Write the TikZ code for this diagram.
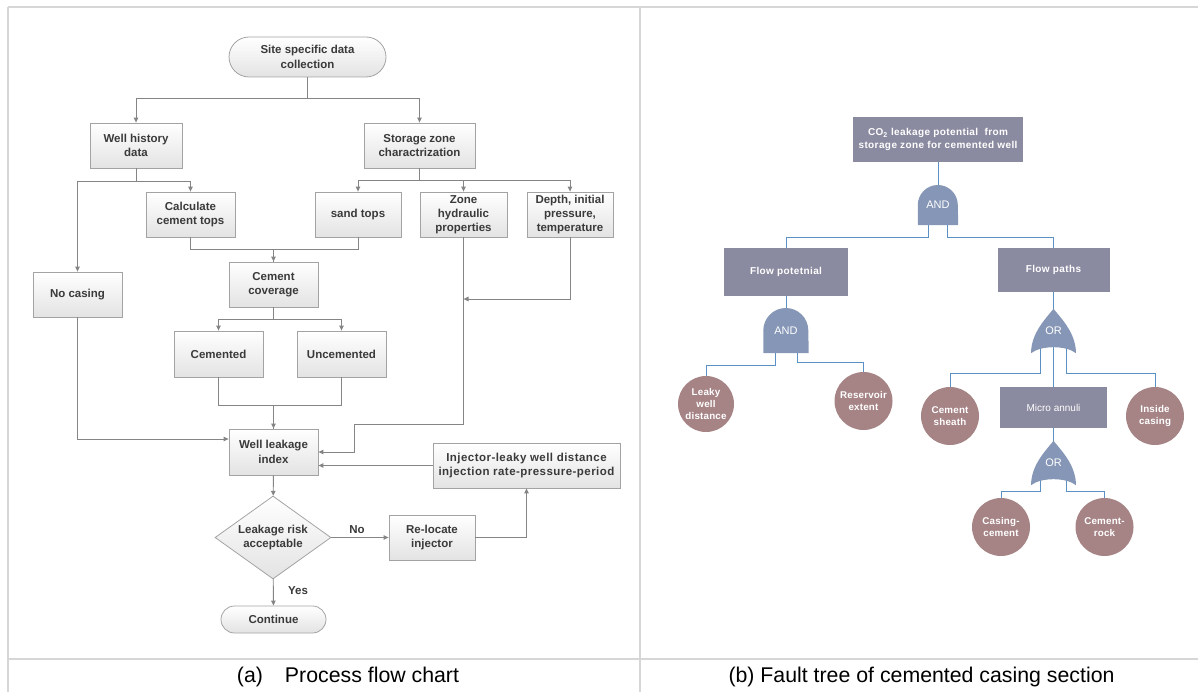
\documentclass[tikz,border=0pt]{standalone}
\usepackage{fontspec}
\setmainfont{Liberation Sans}
\usepackage{xcolor}
\usepackage{tikz}
\usetikzlibrary{positioning,arrows.meta,calc,backgrounds,shapes.geometric}

\definecolor{framegray}{HTML}{D6D6D6}
\definecolor{linegray}{HTML}{858585}
\definecolor{boxedge}{HTML}{A3A3A3}
\definecolor{boxtext}{HTML}{3A3A3A}
\definecolor{eventfill}{HTML}{8A8AA0}
\definecolor{gatefill}{HTML}{8596B6}
\definecolor{basicfill}{HTML}{A68486}
\definecolor{treeline}{HTML}{5B90C4}

\pgfdeclarelayer{gates}
\pgfsetlayers{background,gates,main}

% gate outlines, drawn under the gate labels
\newcommand{\andgate}[2]{%
  \begin{pgfonlayer}{gates}
    \fill[gatefill] (#1.south west) -- (#1.west)
      arc[start angle=180, end angle=0, radius=#2] -- (#1.south east) -- cycle;
  \end{pgfonlayer}}
\newcommand{\orgate}[1]{%
  \begin{pgfonlayer}{gates}
    \fill[gatefill] (#1.south west) .. controls +(0,-20) and +(-8,10) .. (#1.north)
      .. controls +(8,10) and +(0,-20) .. (#1.south east)
      .. controls +(-10,-8) and +(10,-8) .. (#1.south west) -- cycle;
  \end{pgfonlayer}}

\begin{document}
\begin{tikzpicture}[
  x=1pt, y=-1pt,
  box/.style={draw=boxedge, line width=.8pt, top color=white, bottom color=gray!22,
              inner sep=0pt, minimum width=89pt, minimum height=45pt, align=center,
              text=boxtext, font=\fontsize{11.5}{14.5}\selectfont\bfseries},
  terminal/.style={box, minimum height=40pt},
  decision/.style={box, diamond, aspect=1.4, minimum width=116pt, minimum height=83pt},
  lbl/.style={inner sep=1pt, text=boxtext, font=\fontsize{11.5}{14}\selectfont\bfseries},
  flow/.style={draw=linegray, line width=.9pt, -{Triangle[length=5pt,width=4.5pt]}},
  wire/.style={draw=linegray, line width=.9pt},
  event/.style={fill=eventfill, text=white, inner sep=0pt, align=center,
                font=\fontsize{10}{12.5}\selectfont\bfseries\addfontfeature{LetterSpace=4}},
  basic/.style={circle, fill=basicfill, text=white, inner sep=0pt, minimum size=58pt,
                align=center, font=\fontsize{9.8}{12}\selectfont\bfseries\addfontfeature{LetterSpace=2}},
  gate/.style={inner sep=0pt, text=white, font=\fontsize{11}{12}\selectfont},
  tree/.style={draw=treeline, line width=.9pt},
  frame/.style={draw=framegray, line width=2pt},
  caption/.style={inner sep=0pt, font=\fontsize{21.3}{25}\selectfont}
]
  \useasboundingbox (0,0) rectangle (1198,692);

  % (a) process flow chart
  \node[terminal, minimum width=157pt, rounded corners=20pt] (site) at (307.5,57) {Site specific data\\collection};
  \node[box, minimum width=92pt] (well) at (136,145.5) {Well history\\data};
  \node[box, minimum width=111pt] (store) at (419.5,145.5) {Storage zone\\charactrization};
  \node[box] (calc) at (190.5,214.5) {Calculate\\cement tops};
  \node[box, minimum width=86pt] (sand) at (358,214.5) {sand tops};
  \node[box, minimum width=87pt, font=\fontsize{11.5}{14}\selectfont\bfseries] (zone) at (463.5,214.5) {Zone\\hydraulic\\properties};
  \node[box, minimum width=86pt, font=\fontsize{11.5}{14}\selectfont\bfseries] (depth) at (570,214.5) {Depth, initial\\pressure,\\temperature};
  \node[box] (nocase) at (77.5,294.5) {No casing};
  \node[box] (cover) at (273.5,284.5) {Cement\\coverage};
  \node[box, minimum height=46pt] (cem) at (218.5,354) {Cemented};
  \node[box, minimum height=46pt] (uncem) at (341.5,354) {Uncemented};
  \node[box, minimum height=46pt] (leak) at (273.5,452) {Well leakage\\index};
  \node[box, minimum width=187pt, font=\fontsize{11.5}{14.5}\selectfont\bfseries\addfontfeature{LetterSpace=4}] (inj) at (526.5,465.5) {Injector-leaky well distance\\injection rate-pressure-period};
  \node[decision] (risk) at (273,537.5) {Leakage risk\\acceptable};
  \node[box, minimum width=86pt] (reloc) at (432,537.5) {Re-locate\\injector};
  \node[terminal, minimum width=105pt, minimum height=27pt, rounded corners=13.5pt] (cont) at (273.5,619.5) {Continue};
  \node[lbl] (no) at (357,530) {No};
  \node[lbl] (yes) at (298,591) {Yes};
  \coordinate (zonejoin) at (463.5,299);

  \draw[flow] (site.south) -- ++(0,21) -| (well.north);
  \draw[flow] (site.south) -- ++(0,21) -| (store.north);
  \draw[flow] (well.south) -- ++(0,13) -| (nocase.north);
  \draw[flow] (well.south) -- ++(0,13) -| (calc.north);
  \draw[flow] (store.south) -- ++(0,12) -| (sand.north);
  \draw[flow] (store.south) -- ++(0,12) -| (zone.north);
  \draw[flow] (store.south) -- ++(0,12) -| (depth.north);
  \draw[flow] (calc.south) -- ++(0,12) -| (cover.north);
  \draw[wire] (sand.south) -- ++(0,12) -| (cover.north);
  \draw[flow] (cover.south) -- ++(0,12) -| (cem.north);
  \draw[flow] (cover.south) -- ++(0,12) -| (uncem.north);
  \draw[flow] (cem.south) -- ++(0,28) -| (leak.north);
  \draw[wire] (uncem.south) -- ++(0,28) -| (leak.north);
  \draw[flow] (nocase.south) |- ([yshift=13pt]leak.west);
  \draw[flow] (zone.south) |- ++(-109.5,187) |- (leak.east);
  \draw[flow] (depth.south) |- (zonejoin);
  \draw[flow] (inj.west) -- (inj.west -| leak.east);
  \draw[flow] (leak) -- (risk);
  \draw[flow] (risk) -- (reloc);
  \draw[flow] (reloc.east) -| (inj.south);
  \draw[flow] (risk) -- (cont);

  % (b) fault tree
  \node[event, minimum width=170pt, minimum height=45pt] (top) at (938,139.5) {CO\textsubscript{2} leakage potential~ from\\storage zone for cemented well};
  \node[gate, minimum width=40pt, minimum height=40pt] (and1) at (938,205) {AND};
  \node[event, minimum width=124pt, minimum height=48pt] (flowpot) at (786,272) {Flow potetnial};
  \node[event, minimum width=112pt, minimum height=44pt] (paths) at (1053.5,270) {Flow paths};
  \node[gate, minimum width=45pt, minimum height=45pt] (and2) at (786,330.5) {AND};
  \node[gate, minimum width=44.5pt, minimum height=44pt] (or1) at (1053.5,331) {OR};
  \node[basic, minimum size=56pt] (leaky) at (706,404) {Leaky\\well\\distance};
  \node[basic] (res) at (863.5,401) {Reservoir\\extent};
  \node[basic] (sheath) at (950,416) {Cement\\sheath};
  \node[event, minimum width=107pt, minimum height=41pt, font=\fontsize{10}{12}\selectfont] (micro) at (1053.5,407.5) {Micro annuli};
  \node[basic] (inside) at (1155,416) {Inside\\casing};
  \node[gate, minimum width=44.5pt, minimum height=44pt] (or2) at (1053.5,463) {OR};
  \node[basic] (cascem) at (1001,527) {Casing-\\cement};
  \node[basic] (cemrock) at (1104.5,527) {Cement-\\rock};
  \andgate{and1}{20pt}
  \andgate{and2}{22.5pt}
  \orgate{or1}
  \orgate{or2}

  \begin{scope}[on background layer]
    \draw[tree] (top) -- (and1);
    \draw[tree] ([xshift=-10pt]and1.center) -- ++(0,32) -| (flowpot.north);
    \draw[tree] ([xshift=9pt]and1.center) -- ++(0,32) -| (paths.north);
    \draw[tree] (flowpot) -- (and2);
    \draw[tree] ([xshift=-11pt]and2.center) -- ++(0,34.5) -| (leaky.north);
    \draw[tree] ([xshift=11pt]and2.center) -- ++(0,31.5) -| (res.north);
    \draw[tree] (paths) -- (or1);
    \draw[tree] ([xshift=-13.5pt]or1.center) -- ++(0,42) -| (sheath.north);
    \draw[tree] (or1.center) -- (micro.north);
    \draw[tree] ([xshift=12.5pt]or1.center) -- ++(0,42) -| (inside.north);
    \draw[tree] (micro) -- (or2);
    \draw[tree] ([xshift=-13.5pt]or2.center) -- ++(0,28) -| (cascem.north);
    \draw[tree] ([xshift=12.5pt]or2.center) -- ++(0,28) -| (cemrock.north);

    % table rules
    \draw[frame] (8,7) -- (1198,7);
    \draw[frame] (8,7) -- (8,692);
    \draw[frame] (640,7) -- (640,692);
    \draw[frame] (8,659) -- (1198,659);
  \end{scope}

  \node[caption] (capa) at (348,677) {(a)\hspace{22pt}Process flow chart};
  \node[caption] (capb) at (921.5,677) {(b) Fault tree of cemented casing section};
\end{tikzpicture}
\end{document}
